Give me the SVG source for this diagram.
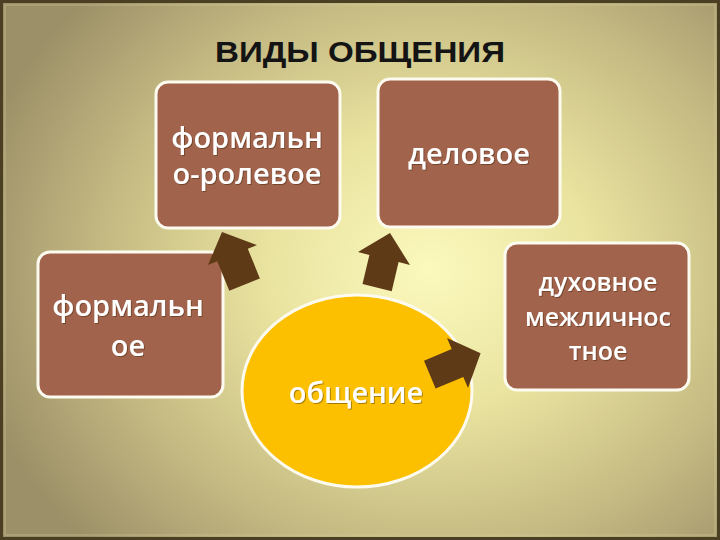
<svg xmlns="http://www.w3.org/2000/svg" width="720" height="540" viewBox="0 0 720 540">
  <defs>
    <radialGradient id="bg" cx="430" cy="270" r="470" gradientUnits="userSpaceOnUse" gradientTransform="translate(430 270) scale(1 0.85) translate(-430 -270)">
      <stop offset="0" stop-color="#fbf9bd"/>
      <stop offset="0.35" stop-color="#e9e39f"/>
      <stop offset="0.7" stop-color="#c4b982"/>
      <stop offset="1" stop-color="#9c9068"/>
    </radialGradient>
    <filter id="ts" x="-10%" y="-10%" width="120%" height="130%">
      <feDropShadow dx="1" dy="1" stdDeviation="0.6" flood-color="#3a2010" flood-opacity="0.45"/>
    </filter>
  </defs>
  <style>
    .box { fill: #a2634c; stroke: #fdfbf0; stroke-width: 3; }
    .lbl { font-family: "Open Sans", "DejaVu Sans", sans-serif; font-weight: 600; fill: #ffffff; text-anchor: middle; filter: url(#ts); }
    .arrow { fill: #5e3a17; }
  </style>
  <rect x="0" y="0" width="720" height="540" fill="url(#bg)"/>
  <rect x="1.5" y="1.5" width="717" height="537" fill="none" stroke="#4a3f22" stroke-width="3"/>
  <rect x="5" y="5" width="710" height="530" fill="none" stroke="#d8d0a0" stroke-width="1" opacity="0.5"/>

  <text x="360" y="62" font-family="'Liberation Sans', 'DejaVu Sans', sans-serif" font-weight="bold" font-size="29" fill="#141414" text-anchor="middle" textLength="290" lengthAdjust="spacingAndGlyphs">ВИДЫ ОБЩЕНИЯ</text>

  <g id="node-formal-role">
    <rect class="box" x="156" y="82" width="184" height="146" rx="12"/>
    <text class="lbl" x="247" y="148" font-size="29">формальн</text>
    <text class="lbl" x="247" y="184" font-size="29">о-ролевое</text>
  </g>
  <g id="node-business">
    <rect class="box" x="378" y="79" width="182" height="148" rx="12"/>
    <text class="lbl" x="469" y="164" font-size="29">деловое</text>
  </g>
  <g id="node-formal">
    <rect class="box" x="38" y="252" width="185" height="145" rx="12"/>
    <text class="lbl" x="128" y="316" font-size="29">формальн</text>
    <text class="lbl" x="128" y="356" font-size="29">ое</text>
  </g>
  <g id="node-spiritual">
    <rect class="box" x="505" y="243" width="184" height="147" rx="12"/>
    <text class="lbl" x="598" y="291" font-size="25">духовное</text>
    <text class="lbl" x="598" y="326" font-size="25">межличнос</text>
    <text class="lbl" x="598" y="360" font-size="25">тное</text>
  </g>
  <g id="node-communication">
    <ellipse cx="357" cy="391" rx="115" ry="96" fill="#fcc000" stroke="#fdfbf0" stroke-width="3"/>
    <text class="lbl" x="356" y="403" font-size="29">общение</text>
  </g>

  <g id="connectors">
    <polygon class="arrow" points="222,232 257,245 247.8,248.8 259.9,278.4 229.3,290.8 217.2,261.2 208,265"/>
    <polygon class="arrow" points="390,233 410,265 398.6,262.1 391.7,291.3 362.5,284.1 369.4,254.9 358,252"/>
    <polygon class="arrow" points="480.6,353.3 468,388 463.3,376.9 435.6,388.6 424,360.8 451.7,349.1 447,338"/>
  </g>
</svg>
